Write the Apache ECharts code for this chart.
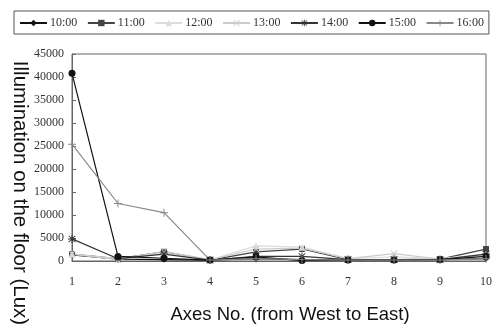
<!DOCTYPE html>
<html><head><meta charset="utf-8">
<script src="https://cdn.jsdelivr.net/npm/echarts@6/dist/echarts.min.js"></script>
<style>html,body{margin:0;padding:0;background:#fff}#c{width:495px;height:331px}</style>
</head><body><div id="c"></div>
<script>
var categories = ['1','2','3','4','5','6','7','8','9','10'];
var seriesNames = ['10:00','11:00','12:00','13:00','14:00','15:00','16:00'];
var v1000 = [1300, 400, 300, 200, 500, 300, 200, 200, 300, 500];
var v1100 = [1500, 500, 2000, 200, 2000, 2600, 300, 300, 400, 2600];
var v1200 = [1500, 500, 1800, 200, 3300, 3000, 500, 900, 500, 1500];
var v1300 = [1500, 300, 2100, 300, 2600, 2800, 500, 1600, 400, 1200];
var v1400 = [4800, 500, 1500, 200, 1000, 1000, 300, 300, 300, 1500];
var v1500 = [40800, 1000, 600, 200, 900, 100, 200, 200, 300, 1000];
var v1600 = [25400, 12500, 10500, 200, 500, 300, 200, 200, 200, 500];
var yTicks = {min: 0, max: 45000, interval: 5000};

var plusPath = 'path://M4.4,0 H5.6 V4.4 H10 V5.6 H5.6 V10 H4.4 V5.6 H0 V4.4 H4.4 Z';
var xPath = 'path://M1,0 L5,4 L9,0 L10,1 L6,5 L10,9 L9,10 L5,6 L1,10 L0,9 L4,5 L0,1 Z';
var starPath = 'path://M4.4,0 H5.6 V3.6 L8.8,0.6 L9.6,1.4 L6.4,4.4 H10 V5.6 H6.4 L9.6,8.6 L8.8,9.4 L5.6,6.4 V10 H4.4 V6.4 L1.2,9.4 L0.4,8.6 L3.6,5.6 H0 V4.4 H3.6 L0.4,1.4 L1.2,0.6 L4.4,3.6 Z';

var values = [v1000, v1100, v1200, v1300, v1400, v1500, v1600];
var colors = ['#111111', '#444444', '#dddddd', '#cccccc', '#333333', '#111111', '#888888'];
var symbols = ['diamond', 'rect', 'triangle', xPath, starPath, 'circle', plusPath];
var sizes = [6, 6, 7, 7, 8, 7, 8];

var series = seriesNames.map(function(n, i){
  return {
    name: n, type: 'line', data: values[i],
    symbol: symbols[i], symbolSize: sizes[i], showAllSymbol: true,
    lineStyle: {color: colors[i], width: 1.2},
    itemStyle: {color: colors[i]},
    emphasis: {disabled: true},
    animation: false
  };
});

var chart = echarts.init(document.getElementById('c'));
chart.setOption({
  animation: false,
  backgroundColor: '#fff',
  legend: {
    top: 11, left: 14,
    data: seriesNames,
    itemWidth: 27, itemHeight: 8, itemGap: 9.5,
    padding: [6, 5, 5, 5],
    borderColor: '#555', borderWidth: 1,
    textStyle: {fontFamily: 'Liberation Serif', fontSize: 12, color: '#333', padding: [0,0,0,-2]}
  },
  grid: {left: 72, right: 5, top: 54, bottom: 70, show: true, borderColor: '#666', borderWidth: 1},
  xAxis: {
    type: 'category', data: categories, boundaryGap: false,
    axisLine: {lineStyle: {color: '#666'}},
    axisTick: {show: false},
    axisLabel: {fontFamily: 'Liberation Serif', fontSize: 12, color: '#333', margin: 15},
    splitLine: {show: false}
  },
  yAxis: {
    type: 'value', min: yTicks.min, max: yTicks.max, interval: yTicks.interval,
    axisLine: {show: true, lineStyle: {color: '#666'}},
    axisTick: {show: true, inside: true, length: 4, lineStyle: {color: '#666'}},
    axisLabel: {fontFamily: 'Liberation Serif', fontSize: 12, color: '#333', margin: 8,
      formatter: function(v){ return String(v); }},
    splitLine: {show: false}
  },
  graphic: [
    {type: 'text', x: 290, y: 315, style: {text: 'Axes No. (from West to East)', font: '18.5px "Liberation Sans"', fill: '#111', textAlign: 'center', textVerticalAlign: 'middle'}},
    {type: 'text', x: 20, y: 193, rotation: -Math.PI/2, style: {text: 'Illumination on the floor (Lux)', font: '20.5px "Liberation Sans"', fill: '#111', textAlign: 'center', textVerticalAlign: 'middle'}}
  ],
  series: series
});
</script></body></html>
